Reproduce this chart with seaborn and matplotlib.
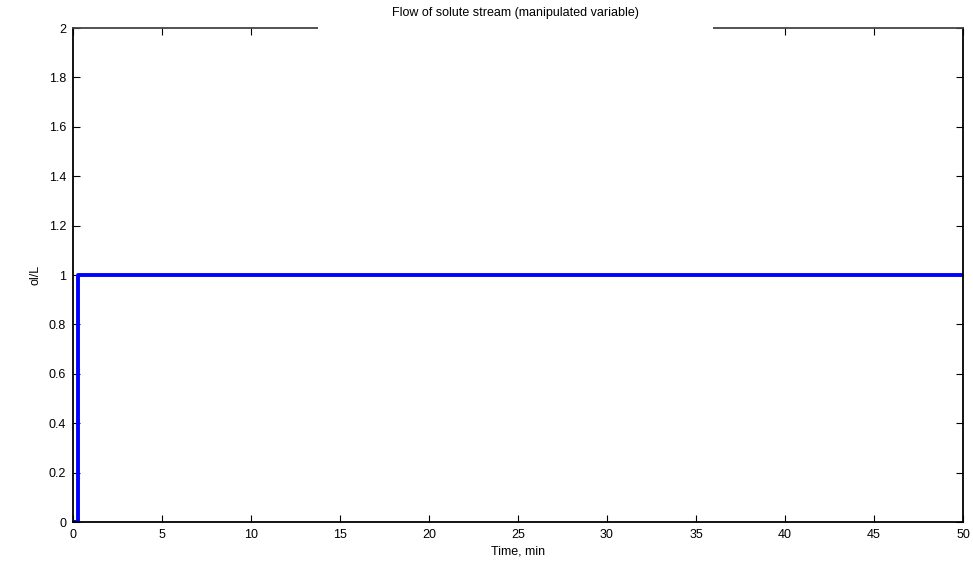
import matplotlib
matplotlib.use("Agg")
import matplotlib.pyplot as plt
import seaborn as sns
import pandas as pd
from matplotlib.patches import Rectangle

# step input of the solute stream flow
time_min = [0.0, 0.3, 50.0]
flow = [0.0, 1.0, 1.0]
x_ticks = [0, 5, 10, 15, 20, 25, 30, 35, 40, 45, 50]
y_ticks = [0, 0.2, 0.4, 0.6, 0.8, 1, 1.2, 1.4, 1.6, 1.8, 2]
y_tick_labels = ["0", "0.2", "0.4", "0.6", "0.8", "1", "1.2", "1.4", "1.6", "1.8", "2"]

df = pd.DataFrame({"t": time_min, "flow": flow})

sns.set_theme(style="ticks")
plt.rcParams["font.family"] = ["Liberation Sans", "DejaVu Sans"]
plt.rcParams["text.color"] = "black"
plt.rcParams["axes.labelcolor"] = "black"

fig = plt.figure(figsize=(9.73, 5.61), dpi=100)
ax = fig.add_axes([0.075, 0.0695, 0.9147, 0.8805])

sns.lineplot(data=df, x="t", y="flow", ax=ax, color="#0000ff",
             linewidth=2.8, drawstyle="steps-post", estimator=None)

ax.set_xlim(0, 50)
ax.set_ylim(0, 2)
ax.set_xticks(x_ticks)
ax.set_xticklabels([str(v) for v in x_ticks])
ax.set_yticks(y_ticks)
ax.set_yticklabels(y_tick_labels)
ax.tick_params(direction="in", length=5, width=0.8, labelsize=9, colors="black",
               top=True, right=True, pad=5)
for s in ax.spines.values():
    s.set_visible(True)
    s.set_color("black")
    s.set_linewidth(1.3)
ax.spines["top"].set_color("#444444")

ax.set_xlabel("Time, min", fontsize=9, labelpad=3)
ax.set_ylabel("ol/L", fontsize=9, labelpad=5)

# white box behind the title, hiding part of the top axis line and ticks
fig.patches.append(Rectangle((318 / 973, 1 - 40 / 561), (713 - 318) / 973, 40 / 561,
                             transform=fig.transFigure, facecolor="white",
                             edgecolor="none", zorder=10))
fig.text(515.5 / 973, 1 - 13 / 561, "Flow of solute stream (manipulated variable)",
         ha="center", va="center", fontsize=9, zorder=11)

fig.savefig("out.png", dpi=100)
